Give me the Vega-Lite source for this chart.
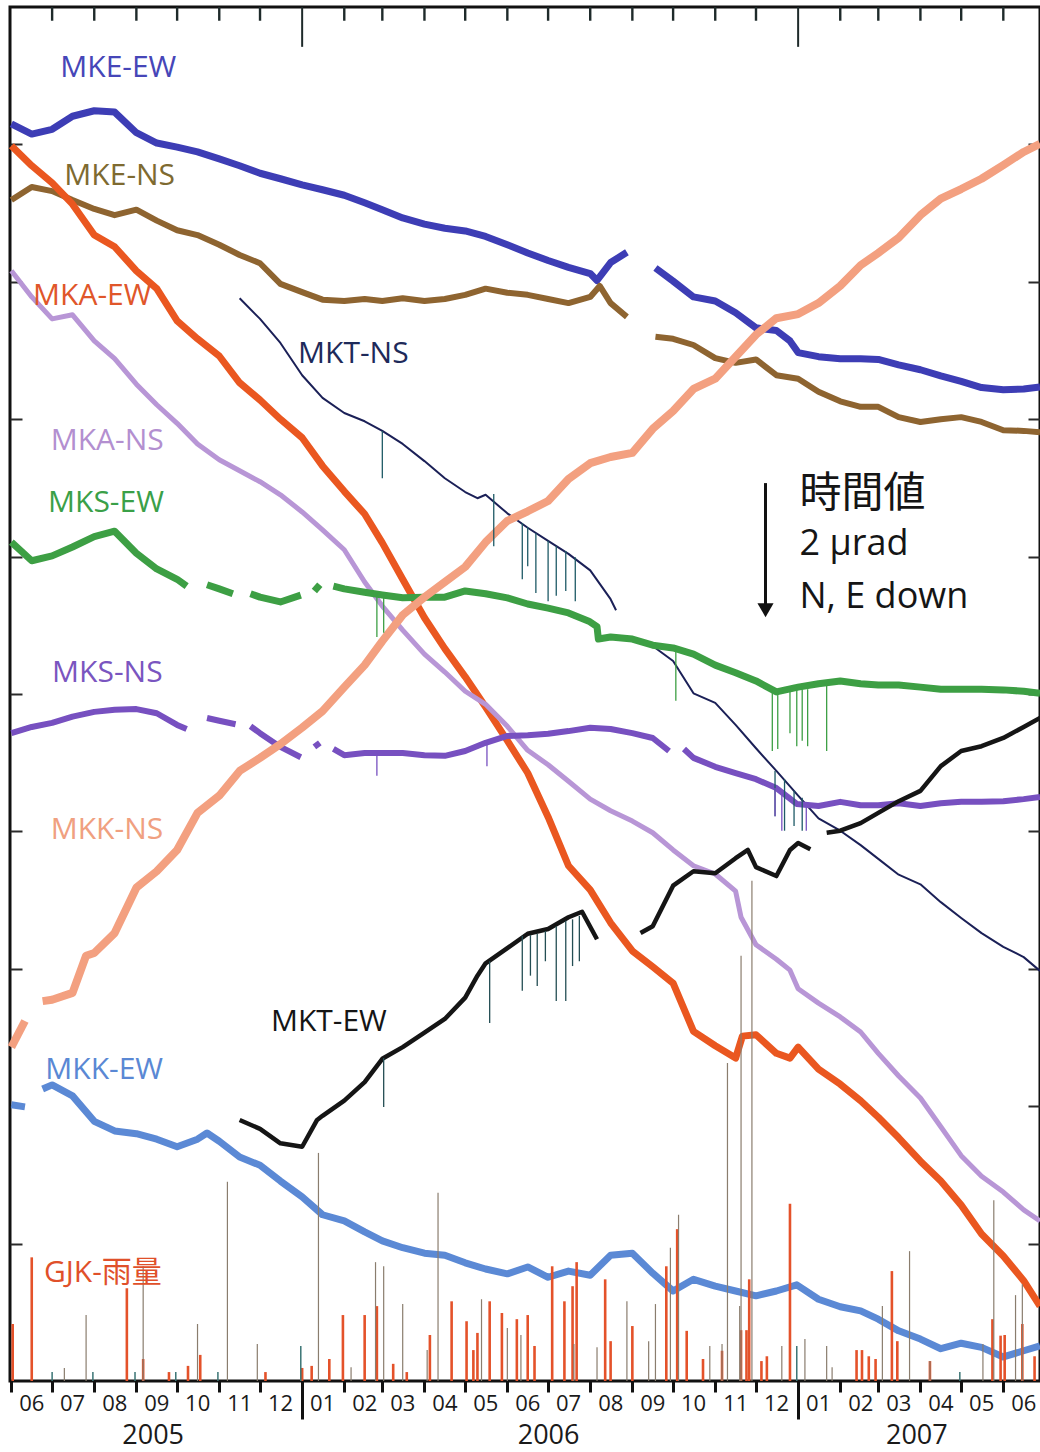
{
"$schema": "https://vega.github.io/schema/vega-lite/v6.json",
"width": 1030, "height": 1374,
"autosize": {"type": "none"},
"padding": {"left": 10, "top": 7, "right": 0, "bottom": 71},
"background": "white",
"config": {"view": {"stroke": "#111", "strokeWidth": 3}, "axis": {"grid": false, "title": null, "labelFont": "Open Sans", "labelColor": "#1a1a1a"}},
"datasets": {
"series": [
{"series":"MKE-EW","seg":1,"date":"2005-06-01","v":18.30},{"series":"MKE-EW","seg":1,"date":"2005-06-16","v":18.15},{"series":"MKE-EW","seg":1,"date":"2005-07-01","v":18.22},{"series":"MKE-EW","seg":1,"date":"2005-07-16","v":18.41},{"series":"MKE-EW","seg":1,"date":"2005-08-01","v":18.49},{"series":"MKE-EW","seg":1,"date":"2005-08-16","v":18.47},{"series":"MKE-EW","seg":1,"date":"2005-09-01","v":18.17},{"series":"MKE-EW","seg":1,"date":"2005-09-16","v":18.02},{"series":"MKE-EW","seg":1,"date":"2005-10-01","v":17.96},{"series":"MKE-EW","seg":1,"date":"2005-10-16","v":17.89},{"series":"MKE-EW","seg":1,"date":"2005-11-01","v":17.79},{"series":"MKE-EW","seg":1,"date":"2005-11-16","v":17.69},{"series":"MKE-EW","seg":1,"date":"2005-12-01","v":17.58},{"series":"MKE-EW","seg":1,"date":"2005-12-16","v":17.50},{"series":"MKE-EW","seg":1,"date":"2006-01-01","v":17.41},{"series":"MKE-EW","seg":1,"date":"2006-01-16","v":17.34},{"series":"MKE-EW","seg":1,"date":"2006-02-01","v":17.26},{"series":"MKE-EW","seg":1,"date":"2006-02-16","v":17.15},{"series":"MKE-EW","seg":1,"date":"2006-03-01","v":17.05},{"series":"MKE-EW","seg":1,"date":"2006-03-16","v":16.93},{"series":"MKE-EW","seg":1,"date":"2006-04-01","v":16.84},{"series":"MKE-EW","seg":1,"date":"2006-04-16","v":16.78},{"series":"MKE-EW","seg":1,"date":"2006-05-01","v":16.74},{"series":"MKE-EW","seg":1,"date":"2006-05-16","v":16.66},{"series":"MKE-EW","seg":1,"date":"2006-06-01","v":16.54},{"series":"MKE-EW","seg":1,"date":"2006-06-16","v":16.42},{"series":"MKE-EW","seg":1,"date":"2006-07-01","v":16.31},{"series":"MKE-EW","seg":1,"date":"2006-07-16","v":16.21},{"series":"MKE-EW","seg":1,"date":"2006-08-01","v":16.12},{"series":"MKE-EW","seg":1,"date":"2006-08-06","v":16.02},{"series":"MKE-EW","seg":1,"date":"2006-08-16","v":16.28},{"series":"MKE-EW","seg":1,"date":"2006-08-28","v":16.43},
{"series":"MKE-EW","seg":2,"date":"2006-09-18","v":16.20},{"series":"MKE-EW","seg":2,"date":"2006-10-01","v":16.01},{"series":"MKE-EW","seg":2,"date":"2006-10-16","v":15.78},{"series":"MKE-EW","seg":2,"date":"2006-11-01","v":15.72},{"series":"MKE-EW","seg":2,"date":"2006-11-16","v":15.55},{"series":"MKE-EW","seg":2,"date":"2006-12-01","v":15.33},{"series":"MKE-EW","seg":2,"date":"2006-12-16","v":15.29},{"series":"MKE-EW","seg":2,"date":"2006-12-26","v":15.14},{"series":"MKE-EW","seg":2,"date":"2007-01-01","v":14.97},{"series":"MKE-EW","seg":2,"date":"2007-01-16","v":14.91},{"series":"MKE-EW","seg":2,"date":"2007-02-01","v":14.88},{"series":"MKE-EW","seg":2,"date":"2007-02-16","v":14.88},{"series":"MKE-EW","seg":2,"date":"2007-03-01","v":14.87},{"series":"MKE-EW","seg":2,"date":"2007-03-16","v":14.79},{"series":"MKE-EW","seg":2,"date":"2007-04-01","v":14.72},{"series":"MKE-EW","seg":2,"date":"2007-04-16","v":14.63},{"series":"MKE-EW","seg":2,"date":"2007-05-01","v":14.55},{"series":"MKE-EW","seg":2,"date":"2007-05-16","v":14.46},{"series":"MKE-EW","seg":2,"date":"2007-06-01","v":14.43},{"series":"MKE-EW","seg":2,"date":"2007-06-16","v":14.44},{"series":"MKE-EW","seg":2,"date":"2007-06-28","v":14.47},
{"series":"MKE-NS","seg":1,"date":"2005-06-01","v":17.19},{"series":"MKE-NS","seg":1,"date":"2005-06-16","v":17.38},{"series":"MKE-NS","seg":1,"date":"2005-07-01","v":17.32},{"series":"MKE-NS","seg":1,"date":"2005-07-16","v":17.19},{"series":"MKE-NS","seg":1,"date":"2005-08-01","v":17.06},{"series":"MKE-NS","seg":1,"date":"2005-08-16","v":16.97},{"series":"MKE-NS","seg":1,"date":"2005-09-01","v":17.05},{"series":"MKE-NS","seg":1,"date":"2005-09-16","v":16.89},{"series":"MKE-NS","seg":1,"date":"2005-10-01","v":16.75},{"series":"MKE-NS","seg":1,"date":"2005-10-16","v":16.68},{"series":"MKE-NS","seg":1,"date":"2005-11-01","v":16.54},{"series":"MKE-NS","seg":1,"date":"2005-11-16","v":16.39},{"series":"MKE-NS","seg":1,"date":"2005-12-01","v":16.27},{"series":"MKE-NS","seg":1,"date":"2005-12-16","v":15.97},{"series":"MKE-NS","seg":1,"date":"2006-01-01","v":15.85},{"series":"MKE-NS","seg":1,"date":"2006-01-16","v":15.74},{"series":"MKE-NS","seg":1,"date":"2006-02-01","v":15.72},{"series":"MKE-NS","seg":1,"date":"2006-02-16","v":15.75},{"series":"MKE-NS","seg":1,"date":"2006-03-01","v":15.72},{"series":"MKE-NS","seg":1,"date":"2006-03-16","v":15.76},{"series":"MKE-NS","seg":1,"date":"2006-04-01","v":15.72},{"series":"MKE-NS","seg":1,"date":"2006-04-16","v":15.75},{"series":"MKE-NS","seg":1,"date":"2006-05-01","v":15.81},{"series":"MKE-NS","seg":1,"date":"2006-05-16","v":15.90},{"series":"MKE-NS","seg":1,"date":"2006-06-01","v":15.84},{"series":"MKE-NS","seg":1,"date":"2006-06-16","v":15.81},{"series":"MKE-NS","seg":1,"date":"2006-07-01","v":15.75},{"series":"MKE-NS","seg":1,"date":"2006-07-16","v":15.69},{"series":"MKE-NS","seg":1,"date":"2006-08-01","v":15.78},{"series":"MKE-NS","seg":1,"date":"2006-08-08","v":15.94},{"series":"MKE-NS","seg":1,"date":"2006-08-16","v":15.69},{"series":"MKE-NS","seg":1,"date":"2006-08-28","v":15.49},
{"series":"MKE-NS","seg":2,"date":"2006-09-18","v":15.20},{"series":"MKE-NS","seg":2,"date":"2006-10-01","v":15.17},{"series":"MKE-NS","seg":2,"date":"2006-10-16","v":15.08},{"series":"MKE-NS","seg":2,"date":"2006-11-01","v":14.89},{"series":"MKE-NS","seg":2,"date":"2006-11-16","v":14.82},{"series":"MKE-NS","seg":2,"date":"2006-12-01","v":14.87},{"series":"MKE-NS","seg":2,"date":"2006-12-16","v":14.64},{"series":"MKE-NS","seg":2,"date":"2007-01-01","v":14.59},{"series":"MKE-NS","seg":2,"date":"2007-01-16","v":14.40},{"series":"MKE-NS","seg":2,"date":"2007-02-01","v":14.26},{"series":"MKE-NS","seg":2,"date":"2007-02-16","v":14.18},{"series":"MKE-NS","seg":2,"date":"2007-03-01","v":14.18},{"series":"MKE-NS","seg":2,"date":"2007-03-16","v":14.03},{"series":"MKE-NS","seg":2,"date":"2007-04-01","v":13.96},{"series":"MKE-NS","seg":2,"date":"2007-04-16","v":14.00},{"series":"MKE-NS","seg":2,"date":"2007-05-01","v":14.03},{"series":"MKE-NS","seg":2,"date":"2007-05-16","v":13.96},{"series":"MKE-NS","seg":2,"date":"2007-06-01","v":13.84},{"series":"MKE-NS","seg":2,"date":"2007-06-16","v":13.83},{"series":"MKE-NS","seg":2,"date":"2007-06-28","v":13.81},
{"series":"MKA-EW","seg":1,"date":"2005-06-01","v":17.98},{"series":"MKA-EW","seg":1,"date":"2005-06-16","v":17.69},{"series":"MKA-EW","seg":1,"date":"2005-07-01","v":17.44},{"series":"MKA-EW","seg":1,"date":"2005-07-16","v":17.13},{"series":"MKA-EW","seg":1,"date":"2005-08-01","v":16.68},{"series":"MKA-EW","seg":1,"date":"2005-08-16","v":16.51},{"series":"MKA-EW","seg":1,"date":"2005-09-01","v":16.16},{"series":"MKA-EW","seg":1,"date":"2005-09-16","v":15.90},{"series":"MKA-EW","seg":1,"date":"2005-10-01","v":15.43},{"series":"MKA-EW","seg":1,"date":"2005-10-16","v":15.17},{"series":"MKA-EW","seg":1,"date":"2005-11-01","v":14.92},{"series":"MKA-EW","seg":1,"date":"2005-11-16","v":14.53},{"series":"MKA-EW","seg":1,"date":"2005-12-01","v":14.28},{"series":"MKA-EW","seg":1,"date":"2005-12-16","v":14.00},{"series":"MKA-EW","seg":1,"date":"2006-01-01","v":13.73},{"series":"MKA-EW","seg":1,"date":"2006-01-16","v":13.32},{"series":"MKA-EW","seg":1,"date":"2006-02-01","v":12.95},{"series":"MKA-EW","seg":1,"date":"2006-02-16","v":12.62},{"series":"MKA-EW","seg":1,"date":"2006-03-01","v":12.20},{"series":"MKA-EW","seg":1,"date":"2006-03-16","v":11.67},{"series":"MKA-EW","seg":1,"date":"2006-04-01","v":11.11},{"series":"MKA-EW","seg":1,"date":"2006-04-16","v":10.66},{"series":"MKA-EW","seg":1,"date":"2006-05-01","v":10.25},{"series":"MKA-EW","seg":1,"date":"2006-05-16","v":9.81},{"series":"MKA-EW","seg":1,"date":"2006-06-01","v":9.32},{"series":"MKA-EW","seg":1,"date":"2006-06-16","v":8.85},{"series":"MKA-EW","seg":1,"date":"2006-07-01","v":8.21},{"series":"MKA-EW","seg":1,"date":"2006-07-16","v":7.50},{"series":"MKA-EW","seg":1,"date":"2006-08-01","v":7.15},{"series":"MKA-EW","seg":1,"date":"2006-08-16","v":6.67},{"series":"MKA-EW","seg":1,"date":"2006-09-01","v":6.26},{"series":"MKA-EW","seg":1,"date":"2006-09-16","v":6.03},{"series":"MKA-EW","seg":1,"date":"2006-10-01","v":5.79},{"series":"MKA-EW","seg":1,"date":"2006-10-16","v":5.09},{"series":"MKA-EW","seg":1,"date":"2006-11-01","v":4.88},{"series":"MKA-EW","seg":1,"date":"2006-11-16","v":4.70},{"series":"MKA-EW","seg":1,"date":"2006-11-21","v":5.02},{"series":"MKA-EW","seg":1,"date":"2006-12-01","v":5.04},{"series":"MKA-EW","seg":1,"date":"2006-12-16","v":4.77},{"series":"MKA-EW","seg":1,"date":"2006-12-26","v":4.70},{"series":"MKA-EW","seg":1,"date":"2007-01-01","v":4.86},{"series":"MKA-EW","seg":1,"date":"2007-01-16","v":4.54},{"series":"MKA-EW","seg":1,"date":"2007-02-01","v":4.32},{"series":"MKA-EW","seg":1,"date":"2007-02-16","v":4.08},{"series":"MKA-EW","seg":1,"date":"2007-03-01","v":3.84},{"series":"MKA-EW","seg":1,"date":"2007-03-16","v":3.54},{"series":"MKA-EW","seg":1,"date":"2007-04-01","v":3.20},{"series":"MKA-EW","seg":1,"date":"2007-04-16","v":2.91},{"series":"MKA-EW","seg":1,"date":"2007-05-01","v":2.56},{"series":"MKA-EW","seg":1,"date":"2007-05-16","v":2.14},{"series":"MKA-EW","seg":1,"date":"2007-06-01","v":1.82},{"series":"MKA-EW","seg":1,"date":"2007-06-16","v":1.46},{"series":"MKA-EW","seg":1,"date":"2007-06-28","v":1.09},
{"series":"MKA-NS","seg":1,"date":"2005-06-01","v":16.16},{"series":"MKA-NS","seg":1,"date":"2005-06-16","v":15.78},{"series":"MKA-NS","seg":1,"date":"2005-07-01","v":15.46},{"series":"MKA-NS","seg":1,"date":"2005-07-16","v":15.52},{"series":"MKA-NS","seg":1,"date":"2005-08-01","v":15.14},{"series":"MKA-NS","seg":1,"date":"2005-08-16","v":14.88},{"series":"MKA-NS","seg":1,"date":"2005-09-01","v":14.51},{"series":"MKA-NS","seg":1,"date":"2005-09-16","v":14.21},{"series":"MKA-NS","seg":1,"date":"2005-10-01","v":13.94},{"series":"MKA-NS","seg":1,"date":"2005-10-16","v":13.64},{"series":"MKA-NS","seg":1,"date":"2005-11-01","v":13.41},{"series":"MKA-NS","seg":1,"date":"2005-11-16","v":13.25},{"series":"MKA-NS","seg":1,"date":"2005-12-01","v":13.09},{"series":"MKA-NS","seg":1,"date":"2005-12-16","v":12.90},{"series":"MKA-NS","seg":1,"date":"2006-01-01","v":12.65},{"series":"MKA-NS","seg":1,"date":"2006-01-16","v":12.39},{"series":"MKA-NS","seg":1,"date":"2006-02-01","v":12.10},{"series":"MKA-NS","seg":1,"date":"2006-02-16","v":11.63},{"series":"MKA-NS","seg":1,"date":"2006-03-01","v":11.28},{"series":"MKA-NS","seg":1,"date":"2006-03-16","v":10.93},{"series":"MKA-NS","seg":1,"date":"2006-04-01","v":10.58},{"series":"MKA-NS","seg":1,"date":"2006-04-16","v":10.32},{"series":"MKA-NS","seg":1,"date":"2006-05-01","v":10.04},{"series":"MKA-NS","seg":1,"date":"2006-05-16","v":9.85},{"series":"MKA-NS","seg":1,"date":"2006-06-01","v":9.53},{"series":"MKA-NS","seg":1,"date":"2006-06-16","v":9.18},{"series":"MKA-NS","seg":1,"date":"2006-07-01","v":8.97},{"series":"MKA-NS","seg":1,"date":"2006-07-16","v":8.73},{"series":"MKA-NS","seg":1,"date":"2006-08-01","v":8.47},{"series":"MKA-NS","seg":1,"date":"2006-08-16","v":8.30},{"series":"MKA-NS","seg":1,"date":"2006-09-01","v":8.15},{"series":"MKA-NS","seg":1,"date":"2006-09-16","v":7.98},{"series":"MKA-NS","seg":1,"date":"2006-10-01","v":7.73},{"series":"MKA-NS","seg":1,"date":"2006-10-16","v":7.50},{"series":"MKA-NS","seg":1,"date":"2006-11-01","v":7.38},{"series":"MKA-NS","seg":1,"date":"2006-11-16","v":7.13},{"series":"MKA-NS","seg":1,"date":"2006-11-20","v":6.75},{"series":"MKA-NS","seg":1,"date":"2006-12-01","v":6.35},{"series":"MKA-NS","seg":1,"date":"2006-12-16","v":6.14},{"series":"MKA-NS","seg":1,"date":"2006-12-26","v":5.98},{"series":"MKA-NS","seg":1,"date":"2007-01-01","v":5.71},{"series":"MKA-NS","seg":1,"date":"2007-01-16","v":5.50},{"series":"MKA-NS","seg":1,"date":"2007-02-01","v":5.30},{"series":"MKA-NS","seg":1,"date":"2007-02-16","v":5.08},{"series":"MKA-NS","seg":1,"date":"2007-03-01","v":4.77},{"series":"MKA-NS","seg":1,"date":"2007-03-16","v":4.44},{"series":"MKA-NS","seg":1,"date":"2007-04-01","v":4.12},{"series":"MKA-NS","seg":1,"date":"2007-04-16","v":3.70},{"series":"MKA-NS","seg":1,"date":"2007-05-01","v":3.28},{"series":"MKA-NS","seg":1,"date":"2007-05-16","v":2.98},{"series":"MKA-NS","seg":1,"date":"2007-06-01","v":2.75},{"series":"MKA-NS","seg":1,"date":"2007-06-16","v":2.49},{"series":"MKA-NS","seg":1,"date":"2007-06-28","v":2.33},
{"series":"MKT-NS","seg":1,"date":"2005-11-16","v":15.76},{"series":"MKT-NS","seg":1,"date":"2005-12-01","v":15.46},{"series":"MKT-NS","seg":1,"date":"2005-12-16","v":15.11},{"series":"MKT-NS","seg":1,"date":"2006-01-01","v":14.64},{"series":"MKT-NS","seg":1,"date":"2006-01-16","v":14.31},{"series":"MKT-NS","seg":1,"date":"2006-02-01","v":14.09},{"series":"MKT-NS","seg":1,"date":"2006-02-16","v":13.97},{"series":"MKT-NS","seg":1,"date":"2006-03-01","v":13.83},{"series":"MKT-NS","seg":1,"date":"2006-03-16","v":13.64},{"series":"MKT-NS","seg":1,"date":"2006-04-01","v":13.39},{"series":"MKT-NS","seg":1,"date":"2006-04-16","v":13.14},{"series":"MKT-NS","seg":1,"date":"2006-05-01","v":12.94},{"series":"MKT-NS","seg":1,"date":"2006-05-10","v":12.85},{"series":"MKT-NS","seg":1,"date":"2006-05-16","v":12.90},{"series":"MKT-NS","seg":1,"date":"2006-06-01","v":12.63},{"series":"MKT-NS","seg":1,"date":"2006-06-16","v":12.42},{"series":"MKT-NS","seg":1,"date":"2006-07-01","v":12.23},{"series":"MKT-NS","seg":1,"date":"2006-07-16","v":12.04},{"series":"MKT-NS","seg":1,"date":"2006-08-01","v":11.80},{"series":"MKT-NS","seg":1,"date":"2006-08-16","v":11.38},{"series":"MKT-NS","seg":1,"date":"2006-08-20","v":11.22},
{"series":"MKT-NS","seg":2,"date":"2006-09-18","v":10.67},{"series":"MKT-NS","seg":2,"date":"2006-10-01","v":10.48},{"series":"MKT-NS","seg":2,"date":"2006-10-16","v":10.01},{"series":"MKT-NS","seg":2,"date":"2006-11-01","v":9.87},{"series":"MKT-NS","seg":2,"date":"2006-11-16","v":9.55},{"series":"MKT-NS","seg":2,"date":"2006-12-01","v":9.21},{"series":"MKT-NS","seg":2,"date":"2006-12-16","v":8.88},{"series":"MKT-NS","seg":2,"date":"2007-01-01","v":8.52},{"series":"MKT-NS","seg":2,"date":"2007-01-16","v":8.19},{"series":"MKT-NS","seg":2,"date":"2007-02-01","v":8.01},{"series":"MKT-NS","seg":2,"date":"2007-02-16","v":7.80},{"series":"MKT-NS","seg":2,"date":"2007-03-01","v":7.60},{"series":"MKT-NS","seg":2,"date":"2007-03-16","v":7.37},{"series":"MKT-NS","seg":2,"date":"2007-04-01","v":7.23},{"series":"MKT-NS","seg":2,"date":"2007-04-16","v":6.97},{"series":"MKT-NS","seg":2,"date":"2007-05-01","v":6.74},{"series":"MKT-NS","seg":2,"date":"2007-05-16","v":6.52},{"series":"MKT-NS","seg":2,"date":"2007-06-01","v":6.32},{"series":"MKT-NS","seg":2,"date":"2007-06-16","v":6.17},{"series":"MKT-NS","seg":2,"date":"2007-06-28","v":5.97},
{"series":"MKS-EW","seg":1,"date":"2005-06-01","v":12.21},{"series":"MKS-EW","seg":1,"date":"2005-06-16","v":11.94},{"series":"MKS-EW","seg":1,"date":"2005-07-01","v":12.01},{"series":"MKS-EW","seg":1,"date":"2005-07-16","v":12.14},{"series":"MKS-EW","seg":1,"date":"2005-08-01","v":12.29},{"series":"MKS-EW","seg":1,"date":"2005-08-16","v":12.37},{"series":"MKS-EW","seg":1,"date":"2005-09-01","v":12.05},{"series":"MKS-EW","seg":1,"date":"2005-09-16","v":11.82},{"series":"MKS-EW","seg":1,"date":"2005-10-01","v":11.67},{"series":"MKS-EW","seg":1,"date":"2005-10-08","v":11.57},
{"series":"MKS-EW","seg":2,"date":"2005-10-23","v":11.59},{"series":"MKS-EW","seg":2,"date":"2005-11-01","v":11.53},{"series":"MKS-EW","seg":2,"date":"2005-11-11","v":11.46},
{"series":"MKS-EW","seg":3,"date":"2005-11-24","v":11.46},{"series":"MKS-EW","seg":3,"date":"2005-12-01","v":11.41},{"series":"MKS-EW","seg":3,"date":"2005-12-16","v":11.34},{"series":"MKS-EW","seg":3,"date":"2005-12-31","v":11.44},
{"series":"MKS-EW","seg":4,"date":"2006-01-10","v":11.50},{"series":"MKS-EW","seg":4,"date":"2006-01-14","v":11.59},
{"series":"MKS-EW","seg":5,"date":"2006-01-24","v":11.57},{"series":"MKS-EW","seg":5,"date":"2006-02-01","v":11.53},{"series":"MKS-EW","seg":5,"date":"2006-02-16","v":11.48},{"series":"MKS-EW","seg":5,"date":"2006-03-01","v":11.44},{"series":"MKS-EW","seg":5,"date":"2006-03-16","v":11.40},{"series":"MKS-EW","seg":5,"date":"2006-04-01","v":11.41},{"series":"MKS-EW","seg":5,"date":"2006-04-16","v":11.41},{"series":"MKS-EW","seg":5,"date":"2006-05-01","v":11.50},{"series":"MKS-EW","seg":5,"date":"2006-05-16","v":11.46},{"series":"MKS-EW","seg":5,"date":"2006-06-01","v":11.40},{"series":"MKS-EW","seg":5,"date":"2006-06-16","v":11.31},{"series":"MKS-EW","seg":5,"date":"2006-07-01","v":11.25},{"series":"MKS-EW","seg":5,"date":"2006-07-16","v":11.18},{"series":"MKS-EW","seg":5,"date":"2006-07-31","v":11.06},{"series":"MKS-EW","seg":5,"date":"2006-08-06","v":10.98},{"series":"MKS-EW","seg":5,"date":"2006-08-07","v":10.80},{"series":"MKS-EW","seg":5,"date":"2006-08-16","v":10.83},{"series":"MKS-EW","seg":5,"date":"2006-09-01","v":10.80},{"series":"MKS-EW","seg":5,"date":"2006-09-16","v":10.71},{"series":"MKS-EW","seg":5,"date":"2006-10-01","v":10.67},{"series":"MKS-EW","seg":5,"date":"2006-10-16","v":10.58},{"series":"MKS-EW","seg":5,"date":"2006-11-01","v":10.42},{"series":"MKS-EW","seg":5,"date":"2006-11-16","v":10.31},{"series":"MKS-EW","seg":5,"date":"2006-12-01","v":10.19},{"series":"MKS-EW","seg":5,"date":"2006-12-16","v":10.03},{"series":"MKS-EW","seg":5,"date":"2007-01-01","v":10.10},{"series":"MKS-EW","seg":5,"date":"2007-01-16","v":10.15},{"series":"MKS-EW","seg":5,"date":"2007-02-01","v":10.19},{"series":"MKS-EW","seg":5,"date":"2007-02-16","v":10.15},{"series":"MKS-EW","seg":5,"date":"2007-03-01","v":10.13},{"series":"MKS-EW","seg":5,"date":"2007-03-16","v":10.13},{"series":"MKS-EW","seg":5,"date":"2007-04-01","v":10.10},{"series":"MKS-EW","seg":5,"date":"2007-04-16","v":10.07},{"series":"MKS-EW","seg":5,"date":"2007-05-01","v":10.07},{"series":"MKS-EW","seg":5,"date":"2007-05-16","v":10.07},{"series":"MKS-EW","seg":5,"date":"2007-06-01","v":10.06},{"series":"MKS-EW","seg":5,"date":"2007-06-16","v":10.04},{"series":"MKS-EW","seg":5,"date":"2007-06-28","v":10.01},
{"series":"MKS-NS","seg":1,"date":"2005-06-01","v":9.43},{"series":"MKS-NS","seg":1,"date":"2005-06-16","v":9.52},{"series":"MKS-NS","seg":1,"date":"2005-07-01","v":9.58},{"series":"MKS-NS","seg":1,"date":"2005-07-16","v":9.67},{"series":"MKS-NS","seg":1,"date":"2005-08-01","v":9.74},{"series":"MKS-NS","seg":1,"date":"2005-08-16","v":9.77},{"series":"MKS-NS","seg":1,"date":"2005-09-01","v":9.78},{"series":"MKS-NS","seg":1,"date":"2005-09-16","v":9.72},{"series":"MKS-NS","seg":1,"date":"2005-10-01","v":9.55},{"series":"MKS-NS","seg":1,"date":"2005-10-08","v":9.49},
{"series":"MKS-NS","seg":2,"date":"2005-10-23","v":9.65},{"series":"MKS-NS","seg":2,"date":"2005-11-01","v":9.61},{"series":"MKS-NS","seg":2,"date":"2005-11-13","v":9.56},
{"series":"MKS-NS","seg":3,"date":"2005-11-24","v":9.53},{"series":"MKS-NS","seg":3,"date":"2005-12-01","v":9.43},{"series":"MKS-NS","seg":3,"date":"2005-12-16","v":9.23},{"series":"MKS-NS","seg":3,"date":"2005-12-31","v":9.08},
{"series":"MKS-NS","seg":4,"date":"2006-01-10","v":9.23},{"series":"MKS-NS","seg":4,"date":"2006-01-14","v":9.29},
{"series":"MKS-NS","seg":5,"date":"2006-01-24","v":9.20},{"series":"MKS-NS","seg":5,"date":"2006-02-01","v":9.11},{"series":"MKS-NS","seg":5,"date":"2006-02-16","v":9.14},{"series":"MKS-NS","seg":5,"date":"2006-03-01","v":9.14},{"series":"MKS-NS","seg":5,"date":"2006-03-16","v":9.14},{"series":"MKS-NS","seg":5,"date":"2006-04-01","v":9.11},{"series":"MKS-NS","seg":5,"date":"2006-04-16","v":9.10},{"series":"MKS-NS","seg":5,"date":"2006-05-01","v":9.17},{"series":"MKS-NS","seg":5,"date":"2006-05-16","v":9.29},{"series":"MKS-NS","seg":5,"date":"2006-06-01","v":9.39},{"series":"MKS-NS","seg":5,"date":"2006-06-16","v":9.40},{"series":"MKS-NS","seg":5,"date":"2006-07-01","v":9.42},{"series":"MKS-NS","seg":5,"date":"2006-07-16","v":9.46},{"series":"MKS-NS","seg":5,"date":"2006-08-01","v":9.51},{"series":"MKS-NS","seg":5,"date":"2006-08-16","v":9.49},{"series":"MKS-NS","seg":5,"date":"2006-09-01","v":9.43},{"series":"MKS-NS","seg":5,"date":"2006-09-16","v":9.36},{"series":"MKS-NS","seg":5,"date":"2006-09-28","v":9.17},
{"series":"MKS-NS","seg":6,"date":"2006-10-09","v":9.20},{"series":"MKS-NS","seg":6,"date":"2006-10-16","v":9.07},{"series":"MKS-NS","seg":6,"date":"2006-11-01","v":8.94},{"series":"MKS-NS","seg":6,"date":"2006-11-16","v":8.85},{"series":"MKS-NS","seg":6,"date":"2006-12-01","v":8.76},{"series":"MKS-NS","seg":6,"date":"2006-12-16","v":8.63},{"series":"MKS-NS","seg":6,"date":"2006-12-31","v":8.40},{"series":"MKS-NS","seg":6,"date":"2007-01-16","v":8.37},{"series":"MKS-NS","seg":6,"date":"2007-02-01","v":8.43},{"series":"MKS-NS","seg":6,"date":"2007-02-16","v":8.38},{"series":"MKS-NS","seg":6,"date":"2007-03-01","v":8.38},{"series":"MKS-NS","seg":6,"date":"2007-03-16","v":8.41},{"series":"MKS-NS","seg":6,"date":"2007-04-01","v":8.37},{"series":"MKS-NS","seg":6,"date":"2007-04-16","v":8.41},{"series":"MKS-NS","seg":6,"date":"2007-05-01","v":8.43},{"series":"MKS-NS","seg":6,"date":"2007-05-16","v":8.43},{"series":"MKS-NS","seg":6,"date":"2007-06-01","v":8.44},{"series":"MKS-NS","seg":6,"date":"2007-06-16","v":8.47},{"series":"MKS-NS","seg":6,"date":"2007-06-28","v":8.50},
{"series":"MKK-NS","seg":1,"date":"2005-06-01","v":4.86},{"series":"MKK-NS","seg":1,"date":"2005-06-11","v":5.24},
{"series":"MKK-NS","seg":2,"date":"2005-06-24","v":5.53},{"series":"MKK-NS","seg":2,"date":"2005-07-01","v":5.55},{"series":"MKK-NS","seg":2,"date":"2005-07-16","v":5.65},{"series":"MKK-NS","seg":2,"date":"2005-07-26","v":6.19},{"series":"MKK-NS","seg":2,"date":"2005-08-01","v":6.23},{"series":"MKK-NS","seg":2,"date":"2005-08-16","v":6.52},{"series":"MKK-NS","seg":2,"date":"2005-09-01","v":7.18},{"series":"MKK-NS","seg":2,"date":"2005-09-16","v":7.42},{"series":"MKK-NS","seg":2,"date":"2005-10-01","v":7.73},{"series":"MKK-NS","seg":2,"date":"2005-10-16","v":8.27},{"series":"MKK-NS","seg":2,"date":"2005-11-01","v":8.52},{"series":"MKK-NS","seg":2,"date":"2005-11-16","v":8.88},{"series":"MKK-NS","seg":2,"date":"2005-12-01","v":9.07},{"series":"MKK-NS","seg":2,"date":"2005-12-16","v":9.27},{"series":"MKK-NS","seg":2,"date":"2006-01-01","v":9.51},{"series":"MKK-NS","seg":2,"date":"2006-01-16","v":9.75},{"series":"MKK-NS","seg":2,"date":"2006-02-01","v":10.10},{"series":"MKK-NS","seg":2,"date":"2006-02-16","v":10.42},{"series":"MKK-NS","seg":2,"date":"2006-03-01","v":10.77},{"series":"MKK-NS","seg":2,"date":"2006-03-16","v":11.15},{"series":"MKK-NS","seg":2,"date":"2006-04-01","v":11.41},{"series":"MKK-NS","seg":2,"date":"2006-04-16","v":11.63},{"series":"MKK-NS","seg":2,"date":"2006-05-01","v":11.85},{"series":"MKK-NS","seg":2,"date":"2006-05-16","v":12.21},{"series":"MKK-NS","seg":2,"date":"2006-06-01","v":12.52},{"series":"MKK-NS","seg":2,"date":"2006-06-16","v":12.66},{"series":"MKK-NS","seg":2,"date":"2006-07-01","v":12.81},{"series":"MKK-NS","seg":2,"date":"2006-07-16","v":13.13},{"series":"MKK-NS","seg":2,"date":"2006-08-01","v":13.36},{"series":"MKK-NS","seg":2,"date":"2006-08-16","v":13.45},{"series":"MKK-NS","seg":2,"date":"2006-09-01","v":13.51},{"series":"MKK-NS","seg":2,"date":"2006-09-16","v":13.86},{"series":"MKK-NS","seg":2,"date":"2006-10-01","v":14.12},{"series":"MKK-NS","seg":2,"date":"2006-10-16","v":14.44},{"series":"MKK-NS","seg":2,"date":"2006-11-01","v":14.59},{"series":"MKK-NS","seg":2,"date":"2006-11-16","v":14.91},{"series":"MKK-NS","seg":2,"date":"2006-12-01","v":15.23},{"series":"MKK-NS","seg":2,"date":"2006-12-16","v":15.47},{"series":"MKK-NS","seg":2,"date":"2007-01-01","v":15.53},{"series":"MKK-NS","seg":2,"date":"2007-01-16","v":15.69},{"series":"MKK-NS","seg":2,"date":"2007-02-01","v":15.94},{"series":"MKK-NS","seg":2,"date":"2007-02-16","v":16.24},{"series":"MKK-NS","seg":2,"date":"2007-03-01","v":16.42},{"series":"MKK-NS","seg":2,"date":"2007-03-16","v":16.64},{"series":"MKK-NS","seg":2,"date":"2007-04-01","v":16.97},{"series":"MKK-NS","seg":2,"date":"2007-04-16","v":17.21},{"series":"MKK-NS","seg":2,"date":"2007-05-01","v":17.35},{"series":"MKK-NS","seg":2,"date":"2007-05-16","v":17.50},{"series":"MKK-NS","seg":2,"date":"2007-06-01","v":17.70},{"series":"MKK-NS","seg":2,"date":"2007-06-16","v":17.89},{"series":"MKK-NS","seg":2,"date":"2007-06-28","v":18.01},
{"series":"MKK-EW","seg":1,"date":"2005-06-01","v":4.02},{"series":"MKK-EW","seg":1,"date":"2005-06-11","v":3.99},
{"series":"MKK-EW","seg":2,"date":"2005-06-24","v":4.25},{"series":"MKK-EW","seg":2,"date":"2005-07-01","v":4.31},{"series":"MKK-EW","seg":2,"date":"2005-07-16","v":4.15},{"series":"MKK-EW","seg":2,"date":"2005-08-01","v":3.78},{"series":"MKK-EW","seg":2,"date":"2005-08-16","v":3.64},{"series":"MKK-EW","seg":2,"date":"2005-09-01","v":3.60},{"series":"MKK-EW","seg":2,"date":"2005-09-16","v":3.52},{"series":"MKK-EW","seg":2,"date":"2005-10-01","v":3.41},{"series":"MKK-EW","seg":2,"date":"2005-10-16","v":3.52},{"series":"MKK-EW","seg":2,"date":"2005-10-23","v":3.61},{"series":"MKK-EW","seg":2,"date":"2005-11-01","v":3.49},{"series":"MKK-EW","seg":2,"date":"2005-11-16","v":3.26},{"series":"MKK-EW","seg":2,"date":"2005-12-01","v":3.14},{"series":"MKK-EW","seg":2,"date":"2005-12-16","v":2.91},{"series":"MKK-EW","seg":2,"date":"2006-01-01","v":2.68},{"series":"MKK-EW","seg":2,"date":"2006-01-16","v":2.42},{"series":"MKK-EW","seg":2,"date":"2006-02-01","v":2.33},{"series":"MKK-EW","seg":2,"date":"2006-02-16","v":2.17},{"series":"MKK-EW","seg":2,"date":"2006-03-01","v":2.04},{"series":"MKK-EW","seg":2,"date":"2006-03-16","v":1.94},{"series":"MKK-EW","seg":2,"date":"2006-04-01","v":1.86},{"series":"MKK-EW","seg":2,"date":"2006-04-16","v":1.83},{"series":"MKK-EW","seg":2,"date":"2006-05-01","v":1.72},{"series":"MKK-EW","seg":2,"date":"2006-05-16","v":1.63},{"series":"MKK-EW","seg":2,"date":"2006-06-01","v":1.56},{"series":"MKK-EW","seg":2,"date":"2006-06-16","v":1.66},{"series":"MKK-EW","seg":2,"date":"2006-07-01","v":1.51},{"series":"MKK-EW","seg":2,"date":"2006-07-16","v":1.60},{"series":"MKK-EW","seg":2,"date":"2006-08-01","v":1.54},{"series":"MKK-EW","seg":2,"date":"2006-08-16","v":1.83},{"series":"MKK-EW","seg":2,"date":"2006-09-01","v":1.86},{"series":"MKK-EW","seg":2,"date":"2006-09-16","v":1.57},{"series":"MKK-EW","seg":2,"date":"2006-10-01","v":1.31},{"series":"MKK-EW","seg":2,"date":"2006-10-16","v":1.48},{"series":"MKK-EW","seg":2,"date":"2006-11-01","v":1.38},{"series":"MKK-EW","seg":2,"date":"2006-11-16","v":1.31},{"series":"MKK-EW","seg":2,"date":"2006-12-01","v":1.24},{"series":"MKK-EW","seg":2,"date":"2006-12-16","v":1.31},{"series":"MKK-EW","seg":2,"date":"2006-12-31","v":1.40},{"series":"MKK-EW","seg":2,"date":"2007-01-16","v":1.19},{"series":"MKK-EW","seg":2,"date":"2007-02-01","v":1.08},{"series":"MKK-EW","seg":2,"date":"2007-02-16","v":1.02},{"series":"MKK-EW","seg":2,"date":"2007-03-01","v":0.90},{"series":"MKK-EW","seg":2,"date":"2007-03-16","v":0.73},{"series":"MKK-EW","seg":2,"date":"2007-04-01","v":0.61},{"series":"MKK-EW","seg":2,"date":"2007-04-16","v":0.47},{"series":"MKK-EW","seg":2,"date":"2007-05-01","v":0.55},{"series":"MKK-EW","seg":2,"date":"2007-05-16","v":0.49},{"series":"MKK-EW","seg":2,"date":"2007-06-01","v":0.35},{"series":"MKK-EW","seg":2,"date":"2007-06-16","v":0.44},{"series":"MKK-EW","seg":2,"date":"2007-06-28","v":0.51},
{"series":"MKT-EW","seg":1,"date":"2005-11-16","v":3.80},{"series":"MKT-EW","seg":1,"date":"2005-12-01","v":3.67},{"series":"MKT-EW","seg":1,"date":"2005-12-16","v":3.46},{"series":"MKT-EW","seg":1,"date":"2006-01-01","v":3.41},{"series":"MKT-EW","seg":1,"date":"2006-01-12","v":3.80},{"series":"MKT-EW","seg":1,"date":"2006-01-16","v":3.86},{"series":"MKT-EW","seg":1,"date":"2006-02-01","v":4.08},{"series":"MKT-EW","seg":1,"date":"2006-02-16","v":4.35},{"series":"MKT-EW","seg":1,"date":"2006-03-01","v":4.69},{"series":"MKT-EW","seg":1,"date":"2006-03-16","v":4.86},{"series":"MKT-EW","seg":1,"date":"2006-04-01","v":5.07},{"series":"MKT-EW","seg":1,"date":"2006-04-16","v":5.27},{"series":"MKT-EW","seg":1,"date":"2006-05-01","v":5.58},{"series":"MKT-EW","seg":1,"date":"2006-05-10","v":5.90},{"series":"MKT-EW","seg":1,"date":"2006-05-16","v":6.08},{"series":"MKT-EW","seg":1,"date":"2006-06-01","v":6.30},{"series":"MKT-EW","seg":1,"date":"2006-06-16","v":6.51},{"series":"MKT-EW","seg":1,"date":"2006-07-01","v":6.58},{"series":"MKT-EW","seg":1,"date":"2006-07-16","v":6.75},{"series":"MKT-EW","seg":1,"date":"2006-07-26","v":6.83},{"series":"MKT-EW","seg":1,"date":"2006-08-06","v":6.43},
{"series":"MKT-EW","seg":2,"date":"2006-09-07","v":6.52},{"series":"MKT-EW","seg":2,"date":"2006-09-16","v":6.62},{"series":"MKT-EW","seg":2,"date":"2006-10-01","v":7.21},{"series":"MKT-EW","seg":2,"date":"2006-10-16","v":7.42},{"series":"MKT-EW","seg":2,"date":"2006-11-01","v":7.39},{"series":"MKT-EW","seg":2,"date":"2006-11-16","v":7.61},{"series":"MKT-EW","seg":2,"date":"2006-11-25","v":7.73},{"series":"MKT-EW","seg":2,"date":"2006-12-01","v":7.48},{"series":"MKT-EW","seg":2,"date":"2006-12-16","v":7.35},{"series":"MKT-EW","seg":2,"date":"2006-12-26","v":7.73},{"series":"MKT-EW","seg":2,"date":"2007-01-01","v":7.83},{"series":"MKT-EW","seg":2,"date":"2007-01-10","v":7.74},
{"series":"MKT-EW","seg":3,"date":"2007-01-22","v":7.98},{"series":"MKT-EW","seg":3,"date":"2007-02-01","v":8.01},{"series":"MKT-EW","seg":3,"date":"2007-02-16","v":8.12},{"series":"MKT-EW","seg":3,"date":"2007-03-01","v":8.27},{"series":"MKT-EW","seg":3,"date":"2007-03-16","v":8.44},{"series":"MKT-EW","seg":3,"date":"2007-04-01","v":8.59},{"series":"MKT-EW","seg":3,"date":"2007-04-16","v":8.95},{"series":"MKT-EW","seg":3,"date":"2007-05-01","v":9.17},{"series":"MKT-EW","seg":3,"date":"2007-05-16","v":9.24},{"series":"MKT-EW","seg":3,"date":"2007-06-01","v":9.36},{"series":"MKT-EW","seg":3,"date":"2007-06-16","v":9.52},{"series":"MKT-EW","seg":3,"date":"2007-06-28","v":9.65}
],
"spikes": [
{"series":"MKT-NS","date":"2006-03-01","v1":13.83,"v2":13.14},{"series":"MKT-NS","date":"2006-05-22","v1":12.91,"v2":12.15},{"series":"MKT-NS","date":"2006-06-12","v1":12.49,"v2":11.67},{"series":"MKT-NS","date":"2006-06-16","v1":12.43,"v2":11.86},{"series":"MKT-NS","date":"2006-06-22","v1":12.34,"v2":11.47},{"series":"MKT-NS","date":"2006-07-01","v1":12.23,"v2":11.35},{"series":"MKT-NS","date":"2006-07-07","v1":12.15,"v2":11.43},{"series":"MKT-NS","date":"2006-07-14","v1":12.08,"v2":11.50},{"series":"MKT-NS","date":"2006-07-21","v1":11.99,"v2":11.35},
{"series":"MKT-NS","date":"2006-12-15","v1":8.88,"v2":8.22},{"series":"MKT-NS","date":"2006-12-22","v1":8.76,"v2":8.01},{"series":"MKT-NS","date":"2006-12-29","v1":8.59,"v2":8.08},{"series":"MKT-NS","date":"2007-01-04","v1":8.49,"v2":8.01},
{"series":"MKT-EW","date":"2006-03-02","v1":4.70,"v2":3.99},{"series":"MKT-EW","date":"2006-05-19","v1":6.11,"v2":5.21},{"series":"MKT-EW","date":"2006-06-12","v1":6.48,"v2":5.68},{"series":"MKT-EW","date":"2006-06-18","v1":6.49,"v2":5.90},{"series":"MKT-EW","date":"2006-06-23","v1":6.51,"v2":5.75},{"series":"MKT-EW","date":"2006-06-29","v1":6.55,"v2":6.11},{"series":"MKT-EW","date":"2006-07-07","v1":6.62,"v2":5.53},{"series":"MKT-EW","date":"2006-07-14","v1":6.70,"v2":5.53},{"series":"MKT-EW","date":"2006-07-19","v1":6.72,"v2":6.04},{"series":"MKT-EW","date":"2006-07-24","v1":6.77,"v2":6.11},
{"series":"MKS-EW","date":"2006-02-25","v1":11.46,"v2":10.83},{"series":"MKS-EW","date":"2006-03-02","v1":11.44,"v2":10.89},{"series":"MKS-EW","date":"2006-10-03","v1":10.65,"v2":9.90},{"series":"MKS-EW","date":"2006-12-13","v1":10.04,"v2":9.17},{"series":"MKS-EW","date":"2006-12-17","v1":10.04,"v2":9.20},{"series":"MKS-EW","date":"2006-12-26","v1":10.07,"v2":9.43},{"series":"MKS-EW","date":"2006-12-31","v1":10.07,"v2":9.24},{"series":"MKS-EW","date":"2007-01-04","v1":10.07,"v2":9.32},{"series":"MKS-EW","date":"2007-01-08","v1":10.07,"v2":9.24},{"series":"MKS-EW","date":"2007-01-22","v1":10.12,"v2":9.17},
{"series":"MKS-NS","date":"2006-02-25","v1":9.14,"v2":8.81},{"series":"MKS-NS","date":"2006-05-17","v1":9.29,"v2":8.95},{"series":"MKS-NS","date":"2006-12-15","v1":8.63,"v2":8.22},{"series":"MKS-NS","date":"2006-12-20","v1":8.59,"v2":8.01},{"series":"MKS-NS","date":"2007-01-07","v1":8.40,"v2":8.01}
],
"rain": [
{"date":"2005-06-02","mm":8.3,"kind":"A"},{"date":"2005-06-16","mm":18.0,"kind":"A"},{"date":"2005-08-25","mm":13.5,"kind":"A"},{"date":"2005-09-06","mm":3.2,"kind":"A"},{"date":"2005-09-25","mm":1.3,"kind":"A"},{"date":"2005-10-09","mm":2.2,"kind":"A"},{"date":"2005-10-18","mm":3.8,"kind":"A"},{"date":"2005-12-05","mm":1.3,"kind":"A"},{"date":"2006-01-01","mm":1.9,"kind":"A"},{"date":"2006-01-08","mm":2.2,"kind":"A"},{"date":"2006-01-21","mm":3.2,"kind":"A"},{"date":"2006-01-31","mm":9.6,"kind":"A"},{"date":"2006-02-16","mm":9.6,"kind":"A"},{"date":"2006-02-25","mm":10.9,"kind":"A"},{"date":"2006-03-09","mm":2.5,"kind":"A"},{"date":"2006-03-19","mm":1.3,"kind":"A"},{"date":"2006-04-05","mm":6.7,"kind":"A"},{"date":"2006-04-21","mm":11.6,"kind":"A"},{"date":"2006-05-02","mm":8.7,"kind":"A"},{"date":"2006-05-07","mm":4.5,"kind":"A"},{"date":"2006-05-10","mm":7.0,"kind":"A"},{"date":"2006-05-19","mm":11.6,"kind":"A"},{"date":"2006-05-28","mm":9.9,"kind":"A"},{"date":"2006-06-08","mm":9.0,"kind":"A"},{"date":"2006-06-16","mm":9.6,"kind":"A"},{"date":"2006-06-21","mm":5.1,"kind":"A"},{"date":"2006-07-04","mm":16.7,"kind":"A"},{"date":"2006-07-13","mm":11.6,"kind":"A"},{"date":"2006-07-19","mm":13.8,"kind":"A"},{"date":"2006-07-22","mm":17.3,"kind":"A"},{"date":"2006-08-12","mm":14.8,"kind":"A"},{"date":"2006-08-16","mm":5.8,"kind":"A"},{"date":"2006-09-01","mm":8.0,"kind":"A"},{"date":"2006-09-26","mm":16.7,"kind":"A"},{"date":"2006-10-04","mm":22.1,"kind":"A"},{"date":"2006-10-11","mm":7.3,"kind":"A"},{"date":"2006-10-23","mm":3.2,"kind":"A"},{"date":"2006-11-06","mm":4.4,"kind":"A"},{"date":"2006-11-20","mm":7.4,"kind":"A"},{"date":"2006-11-24","mm":7.4,"kind":"A"},{"date":"2006-11-26","mm":14.8,"kind":"A"},{"date":"2006-12-05","mm":2.9,"kind":"A"},{"date":"2006-12-09","mm":3.6,"kind":"A"},{"date":"2006-12-26","mm":25.8,"kind":"A"},{"date":"2007-02-13","mm":4.5,"kind":"A"},{"date":"2007-02-17","mm":4.5,"kind":"A"},{"date":"2007-02-22","mm":3.6,"kind":"A"},{"date":"2007-02-27","mm":3.2,"kind":"A"},{"date":"2007-03-11","mm":16.0,"kind":"A"},{"date":"2007-03-15","mm":5.8,"kind":"A"},{"date":"2007-04-08","mm":2.9,"kind":"A"},{"date":"2007-05-24","mm":9.0,"kind":"A"},{"date":"2007-05-30","mm":6.6,"kind":"A"},{"date":"2007-06-02","mm":6.7,"kind":"A"},{"date":"2007-06-15","mm":8.3,"kind":"A"},{"date":"2007-06-24","mm":3.6,"kind":"A"},
{"date":"2005-07-10","mm":1.9,"kind":"B"},{"date":"2005-07-26","mm":9.6,"kind":"B"},{"date":"2005-09-06","mm":16.7,"kind":"B"},{"date":"2005-10-16","mm":8.3,"kind":"B"},{"date":"2005-11-07","mm":29.0,"kind":"B"},{"date":"2005-11-29","mm":5.4,"kind":"B"},{"date":"2006-01-13","mm":33.2,"kind":"B"},{"date":"2006-02-06","mm":2.0,"kind":"B"},{"date":"2006-02-24","mm":17.3,"kind":"B"},{"date":"2006-03-02","mm":16.7,"kind":"B"},{"date":"2006-03-16","mm":11.2,"kind":"B"},{"date":"2006-04-03","mm":4.5,"kind":"B"},{"date":"2006-04-11","mm":27.4,"kind":"B"},{"date":"2006-05-13","mm":11.9,"kind":"B"},{"date":"2006-06-01","mm":7.7,"kind":"B"},{"date":"2006-06-11","mm":6.7,"kind":"B"},{"date":"2006-07-20","mm":5.4,"kind":"B"},{"date":"2006-08-06","mm":4.9,"kind":"B"},{"date":"2006-08-28","mm":11.6,"kind":"B"},{"date":"2006-09-13","mm":5.8,"kind":"B"},{"date":"2006-09-18","mm":11.2,"kind":"B"},{"date":"2006-09-29","mm":19.4,"kind":"B"},{"date":"2006-10-05","mm":24.2,"kind":"B"},{"date":"2006-10-28","mm":5.1,"kind":"B"},{"date":"2006-11-06","mm":5.4,"kind":"B"},{"date":"2006-11-10","mm":46.3,"kind":"B"},{"date":"2006-11-19","mm":10.9,"kind":"B"},{"date":"2006-11-20","mm":61.9,"kind":"B"},{"date":"2006-11-28","mm":72.8,"kind":"B"},{"date":"2006-12-20","mm":5.1,"kind":"B"},{"date":"2007-01-06","mm":6.1,"kind":"B"},{"date":"2007-01-22","mm":5.1,"kind":"B"},{"date":"2007-01-26","mm":2.0,"kind":"B"},{"date":"2007-03-04","mm":10.9,"kind":"B"},{"date":"2007-03-24","mm":18.9,"kind":"B"},{"date":"2007-04-08","mm":2.9,"kind":"B"},{"date":"2007-05-17","mm":5.4,"kind":"B"},{"date":"2007-05-25","mm":26.3,"kind":"B"},{"date":"2007-06-10","mm":12.5,"kind":"B"},{"date":"2007-06-15","mm":14.1,"kind":"B"},
{"date":"2005-07-01","mm":1.3,"kind":"C"},{"date":"2005-07-31","mm":1.3,"kind":"C"},{"date":"2005-08-31","mm":1.3,"kind":"C"},{"date":"2005-09-30","mm":1.3,"kind":"C"},{"date":"2005-10-31","mm":1.3,"kind":"C"},{"date":"2005-12-31","mm":5.1,"kind":"C"},{"date":"2006-12-31","mm":5.1,"kind":"C"},{"date":"2007-04-30","mm":1.3,"kind":"C"}
],
"labels": [
{"label":"MKE-EW","date":"2005-07-07","v":19.11},{"label":"MKE-NS","date":"2005-07-10","v":17.54},{"label":"MKA-EW","date":"2005-06-17","v":15.79},{"label":"MKT-NS","date":"2005-12-29","v":14.95},{"label":"MKA-NS","date":"2005-06-30","v":13.68},{"label":"MKS-EW","date":"2005-06-28","v":12.78},{"label":"MKS-NS","date":"2005-07-01","v":10.31},{"label":"MKK-NS","date":"2005-06-30","v":8.02},{"label":"MKT-EW","date":"2005-12-09","v":5.23},{"label":"MKK-EW","date":"2005-06-26","v":4.53},{"label":"GJK-雨量","date":"2005-06-25","v":1.57}
],
"monthTicks": [
{"date":"2005-07-01"},{"date":"2005-08-01"},{"date":"2005-09-01"},{"date":"2005-10-01"},{"date":"2005-11-01"},{"date":"2005-12-01"},{"date":"2006-02-01"},{"date":"2006-03-01"},{"date":"2006-04-01"},{"date":"2006-05-01"},{"date":"2006-06-01"},{"date":"2006-07-01"},{"date":"2006-08-01"},{"date":"2006-09-01"},{"date":"2006-10-01"},{"date":"2006-11-01"},{"date":"2006-12-01"},{"date":"2007-02-01"},{"date":"2007-03-01"},{"date":"2007-04-01"},{"date":"2007-05-01"},{"date":"2007-06-01"}
],
"yearTicks": [{"date":"2006-01-01"},{"date":"2007-01-01"}]
},
"layer": [
{
"data": {"name": "series"},
"mark": {"type": "line", "strokeJoin": "round", "strokeCap": "butt"},
"encoding": {
"x": {"field": "date", "type": "temporal",
 "scale": {"type": "utc", "domain": [{"year": 2005, "month": 5, "date": 31, "utc": true}, {"year": 2007, "month": 6, "date": 28, "utc": true}]},
 "axis": {"orient": "bottom", "values": [{"year":2005,"month":6,"date":1,"utc":true},{"year":2005,"month":7,"date":1,"utc":true},{"year":2005,"month":8,"date":1,"utc":true},{"year":2005,"month":9,"date":1,"utc":true},{"year":2005,"month":10,"date":1,"utc":true},{"year":2005,"month":11,"date":1,"utc":true},{"year":2005,"month":12,"date":1,"utc":true},{"year":2006,"month":1,"date":1,"utc":true},{"year":2006,"month":2,"date":1,"utc":true},{"year":2006,"month":3,"date":1,"utc":true},{"year":2006,"month":4,"date":1,"utc":true},{"year":2006,"month":5,"date":1,"utc":true},{"year":2006,"month":6,"date":1,"utc":true},{"year":2006,"month":7,"date":1,"utc":true},{"year":2006,"month":8,"date":1,"utc":true},{"year":2006,"month":9,"date":1,"utc":true},{"year":2006,"month":10,"date":1,"utc":true},{"year":2006,"month":11,"date":1,"utc":true},{"year":2006,"month":12,"date":1,"utc":true},{"year":2007,"month":1,"date":1,"utc":true},{"year":2007,"month":2,"date":1,"utc":true},{"year":2007,"month":3,"date":1,"utc":true},{"year":2007,"month":4,"date":1,"utc":true},{"year":2007,"month":5,"date":1,"utc":true},{"year":2007,"month":6,"date":1,"utc":true}],
  "labelExpr": "utcFormat(datum.value, '%m')", "tickSize": 11, "tickWidth": 3, "tickColor": "#111", "domain": false, "labelFontSize": 22, "labelPadding": 11, "labelBaseline": "middle", "labelAlign": "center", "labelOffset": 20, "labelFlush": false, "labelOverlap": false, "labelBound": false, "title": null}},
"y": {"field": "v", "type": "quantitative", "scale": {"domain": [0, 20], "nice": false, "zero": false},
 "axis": {"orient": "left", "values": [2,4,6,8,10,12,14,16,18], "tickSize": -12, "tickWidth": 2, "tickColor": "#2a2a2a", "labels": false, "domain": false, "title": null}},
"color": {"field": "series", "type": "nominal", "legend": null,
 "scale": {"domain": ["MKE-EW","MKE-NS","MKA-EW","MKA-NS","MKT-NS","MKS-EW","MKS-NS","MKK-NS","MKK-EW","MKT-EW"], "range": ["#3d3db5","#8e6430","#ea5720","#b896d6","#1b2057","#3d9f44","#7750c0","#f3a080","#5b89d5","#151515"]}},
"strokeWidth": {"field": "series", "type": "nominal", "legend": null,
 "scale": {"type": "ordinal", "domain": ["MKE-EW","MKE-NS","MKA-EW","MKA-NS","MKT-NS","MKS-EW","MKS-NS","MKK-NS","MKK-EW","MKT-EW"], "range": [7,6,7,5,2,7,6,8,7,4.5]}},
"detail": {"field": "seg", "type": "nominal"}
}
},
{
"data": {"name": "spikes"},
"mark": {"type": "rule", "strokeWidth": 1.3},
"encoding": {
"x": {"field": "date", "type": "temporal",
 "scale": {"type": "utc", "domain": [{"year": 2005, "month": 5, "date": 31, "utc": true}, {"year": 2007, "month": 6, "date": 28, "utc": true}]},
 "axis": {"orient": "bottom", "values": [{"year":2006,"month":1,"date":1,"utc":true},{"year":2007,"month":1,"date":1,"utc":true}], "tickSize": 38, "tickWidth": 3, "tickColor": "#111", "labels": false, "domain": false, "title": null}},
"y": {"field": "v1", "type": "quantitative", "scale": {"domain": [0, 20], "nice": false, "zero": false},
 "axis": {"orient": "right", "values": [2,4,6,8,10,12,14,16,18], "tickSize": -12, "tickWidth": 2, "tickColor": "#2a2a2a", "labels": false, "domain": false, "title": null}},
"y2": {"field": "v2"},
"color": {"field": "series", "type": "nominal", "legend": null,
 "scale": {"domain": ["MKT-NS","MKT-EW","MKS-EW","MKS-NS"], "range": ["#1e5a66","#244e54","#3d9f44","#7750c0"]}}
}
},
{
"data": {"name": "rain"},
"mark": {"type": "rule"},
"encoding": {
"x": {"field": "date", "type": "temporal",
 "scale": {"type": "utc", "domain": [{"year": 2005, "month": 5, "date": 31, "utc": true}, {"year": 2007, "month": 6, "date": 28, "utc": true}]},
 "axis": null},
"y": {"field": "mm", "type": "quantitative", "scale": {"domain": [0, 200], "nice": false}, "axis": null},
"y2": {"datum": 0},
"color": {"field": "kind", "type": "nominal", "legend": null, "scale": {"domain": ["A","B","C"], "range": ["#e4522a","#8a7d6e","#3a7474"]}},
"strokeWidth": {"field": "kind", "type": "nominal", "legend": null, "scale": {"type": "ordinal", "domain": ["A","B","C"], "range": [2.6,1.2,1.5]}}
}
},
{
"data": {"name": "labels"},
"mark": {"type": "text", "align": "left", "baseline": "middle", "fontSize": 30, "font": "Open Sans, Noto Sans CJK JP"},
"encoding": {
"x": {"field": "date", "type": "temporal",
 "scale": {"type": "utc", "domain": [{"year": 2005, "month": 5, "date": 31, "utc": true}, {"year": 2007, "month": 6, "date": 28, "utc": true}]},
 "axis": {"orient": "bottom", "values": [{"year":2005,"month":9,"date":13,"utc":true},{"year":2006,"month":7,"date":1,"utc":true},{"year":2007,"month":3,"date":29,"utc":true}], "labelExpr": "utcFormat(datum.value, '%Y')", "ticks": false, "tickSize": 0, "domain": false, "labelFontSize": 27, "labelPadding": 54, "labelBaseline": "middle", "labelAlign": "center", "labelFlush": false, "labelOverlap": false, "labelBound": false, "title": null}},
"y": {"field": "v", "type": "quantitative", "scale": {"domain": [0, 20], "nice": false, "zero": false}, "axis": null},
"text": {"field": "label"},
"color": {"field": "label", "type": "nominal", "legend": null,
 "scale": {"domain": ["MKE-EW","MKE-NS","MKA-EW","MKT-NS","MKA-NS","MKS-EW","MKS-NS","MKK-NS","MKT-EW","MKK-EW","GJK-雨量"], "range": ["#4646b8","#7e6a30","#e0562a","#1e2a5a","#b38fd0","#3aa048","#7a55c0","#f0a080","#151515","#5a88d4","#e0502a"]}}
}
},
{
"data": {"name": "monthTicks"},
"mark": {"type": "rule", "strokeWidth": 2.4, "color": "#1e2a2a"},
"encoding": {
"x": {"field": "date", "type": "temporal", "scale": {"type": "utc", "domain": [{"year": 2005, "month": 5, "date": 31, "utc": true}, {"year": 2007, "month": 6, "date": 28, "utc": true}]}, "axis": null},
"y": {"datum": 20, "type": "quantitative", "scale": {"domain": [0, 20], "nice": false, "zero": false}, "axis": null},
"y2": {"datum": 19.8}
}
},
{
"data": {"name": "yearTicks"},
"mark": {"type": "rule", "strokeWidth": 2, "color": "#1e2a2a"},
"encoding": {
"x": {"field": "date", "type": "temporal", "scale": {"type": "utc", "domain": [{"year": 2005, "month": 5, "date": 31, "utc": true}, {"year": 2007, "month": 6, "date": 28, "utc": true}]}, "axis": null},
"y": {"datum": 20, "type": "quantitative", "scale": {"domain": [0, 20], "nice": false, "zero": false}, "axis": null},
"y2": {"datum": 19.42}
}
},
{
"data": {"values": [{"date": "2006-12-08", "v1": 13.07, "v2": 11.3}]},
"mark": {"type": "rule", "strokeWidth": 3, "color": "#111"},
"encoding": {
"x": {"field": "date", "type": "temporal", "scale": {"type": "utc", "domain": [{"year": 2005, "month": 5, "date": 31, "utc": true}, {"year": 2007, "month": 6, "date": 28, "utc": true}]}, "axis": null},
"y": {"field": "v1", "type": "quantitative", "scale": {"domain": [0, 20], "nice": false, "zero": false}, "axis": null},
"y2": {"field": "v2"}
}
},
{
"data": {"values": [{"date": "2006-12-08", "v": 11.22}]},
"mark": {"type": "point", "shape": "triangle-down", "filled": true, "size": 260, "color": "#111", "opacity": 1},
"encoding": {
"x": {"field": "date", "type": "temporal", "scale": {"type": "utc", "domain": [{"year": 2005, "month": 5, "date": 31, "utc": true}, {"year": 2007, "month": 6, "date": 28, "utc": true}]}, "axis": null},
"y": {"field": "v", "type": "quantitative", "scale": {"domain": [0, 20], "nice": false, "zero": false}, "axis": null}
}
},
{
"data": {"values": [{"text": "時間値", "date": "2007-01-02", "v": 12.91}]},
"mark": {"type": "text", "align": "left", "baseline": "middle", "fontSize": 42, "font": "Noto Sans CJK JP", "color": "#151515"},
"encoding": {
"x": {"field": "date", "type": "temporal", "scale": {"type": "utc", "domain": [{"year": 2005, "month": 5, "date": 31, "utc": true}, {"year": 2007, "month": 6, "date": 28, "utc": true}]}, "axis": null},
"y": {"field": "v", "type": "quantitative", "scale": {"domain": [0, 20], "nice": false, "zero": false}, "axis": null},
"text": {"field": "text"}
}
},
{
"data": {"values": [{"text": "2 µrad", "date": "2007-01-02", "v": 12.18}, {"text": "N, E down", "date": "2007-01-02", "v": 11.41}]},
"mark": {"type": "text", "align": "left", "baseline": "middle", "fontSize": 36, "font": "Open Sans", "color": "#151515"},
"encoding": {
"x": {"field": "date", "type": "temporal", "scale": {"type": "utc", "domain": [{"year": 2005, "month": 5, "date": 31, "utc": true}, {"year": 2007, "month": 6, "date": 28, "utc": true}]}, "axis": null},
"y": {"field": "v", "type": "quantitative", "scale": {"domain": [0, 20], "nice": false, "zero": false}, "axis": null},
"text": {"field": "text"}
}
}
],
"resolve": {"scale": {"y": "independent", "color": "independent", "strokeWidth": "independent"}, "axis": {"x": "independent", "y": "independent"}}
}
